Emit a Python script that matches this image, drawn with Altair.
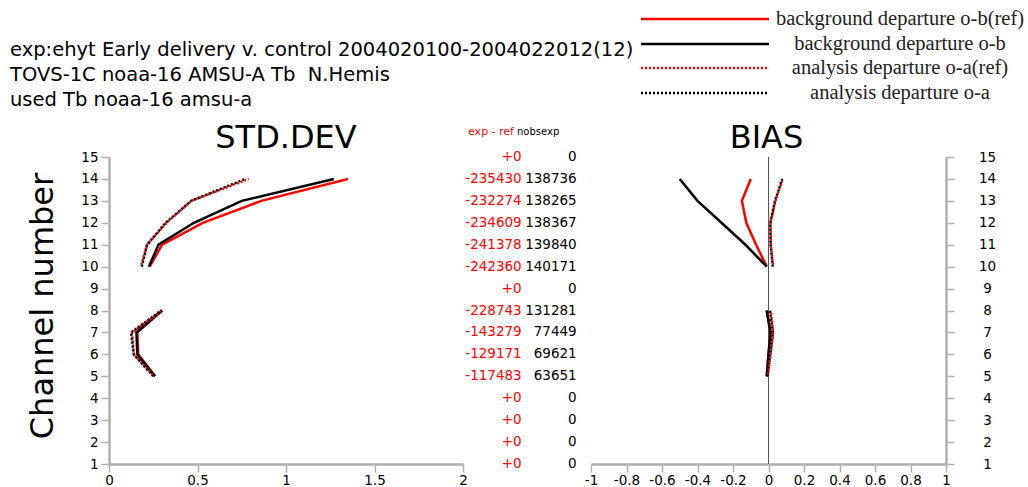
import altair as alt
import pandas as pd

# ---------------- data ----------------
prof_channels = [5, 6, 7, 8, 10, 11, 12, 13, 14]
prof_segment = ["low", "low", "low", "low", "high", "high", "high", "high", "high"]

std_ob_ref = [0.26, 0.165, 0.16, 0.30, 0.23, 0.30, 0.53, 0.86, 1.35]
std_ob = [0.26, 0.16, 0.155, 0.30, 0.225, 0.28, 0.48, 0.75, 1.27]
std_oa_ref = [0.255, 0.14, 0.13, 0.30, 0.18, 0.215, 0.325, 0.465, 0.79]
std_oa = [0.25, 0.14, 0.125, 0.295, 0.185, 0.215, 0.32, 0.465, 0.77]

bias_ob_ref = [-0.01, 0.0, 0.01, -0.01, -0.01, -0.07, -0.125, -0.15, -0.10]
bias_ob = [-0.01, 0.0, 0.012, -0.01, -0.01, -0.13, -0.265, -0.40, -0.50]
bias_oa_ref = [-0.005, 0.012, 0.027, 0.012, 0.026, 0.013, 0.011, 0.039, 0.08]
bias_oa = [-0.006, 0.01, 0.025, 0.008, 0.024, 0.012, 0.01, 0.037, 0.077]

table_channels = list(range(15, 0, -1))
exp_minus_ref = ["+0", "-235430", "-232274", "-234609", "-241378", "-242360", "+0",
                 "-228743", "-143279", "-129171", "-117483", "+0", "+0", "+0", "+0"]
nobs_exp = ["0", "138736", "138265", "138367", "139840", "140171", "0",
            "131281", "77449", "69621", "63651", "0", "0", "0", "0"]

channel_ticks = list(range(1, 16))
std_ticks = [0, 0.5, 1, 1.5, 2]
bias_ticks = [-1, -0.8, -0.6, -0.4, -0.2, 0, 0.2, 0.4, 0.6, 0.8, 1]

legend_labels = ["background departure o-b(ref)", "background departure o-b",
                 "analysis departure o-a(ref)", "analysis departure o-a"]
header_lines = ["exp:ehyt Early delivery v. control 2004020100-2004022012(12)",
                "TOVS-1C noaa-16 AMSU-A Tb \u00a0N.Hemis",
                "used Tb noaa-16 amsu-a"]

# ---------------- layout / style ----------------
W, H = 837, 307
FONT = "DejaVu Sans"
GRAY = "#b0b0b0"
RED = "#ff0000"
BLACK = "#000000"
styles = [(RED, None), (BLACK, None), (RED, [2, 2]), (BLACK, [2, 2])]
dash_offsets = [0, 0, 2, 0]

y_scale = alt.Scale(domain=[1, 15], nice=False, zero=False)
x_left = alt.Scale(domain=[0, 2], range=[0, 354], nice=False, zero=False)
x_right = alt.Scale(domain=[-1, 1], range=[482, 837], nice=False, zero=False)

common_axis = dict(grid=False, domainColor=GRAY, domainWidth=2.5, tickColor=GRAY,
                   tickWidth=1.5, tickSize=8, labelFont=FONT, labelFontSize=13.5,
                   labelColor="black", title=None, labelOverlap=False, labelFlush=False)

ax_x_left = alt.Axis(orient="bottom", values=std_ticks, labelExpr="'' + datum.value",
                     labelPadding=1, **common_axis)
ax_x_right = alt.Axis(orient="bottom", values=bias_ticks, labelExpr="'' + datum.value",
                      labelPadding=1, **common_axis)
ax_y_left = alt.Axis(orient="left", values=channel_ticks, labelPadding=3, **common_axis)
ax_y_right = alt.Axis(orient="right", values=channel_ticks, labelPadding=33,
                      labelAlign="center", **common_axis)


def profile_layer(values, style_idx, xscale, xaxis, yaxis):
    color, dash = styles[style_idx]
    df = pd.DataFrame({"channel": prof_channels, "value": values, "seg": prof_segment})
    mk = dict(color=color, strokeWidth=2.5)
    if dash:
        mk["strokeDash"] = dash
        mk["strokeDashOffset"] = dash_offsets[style_idx]
    return alt.Chart(df).mark_line(**mk).encode(
        x=alt.X("value:Q", scale=xscale, axis=xaxis),
        y=alt.Y("channel:Q", scale=y_scale, axis=yaxis),
        detail="seg:N",
        order="channel:Q",
    )


std_series = [std_ob_ref, std_ob, std_oa_ref, std_oa]
bias_series = [bias_ob_ref, bias_ob, bias_oa_ref, bias_oa]

left_layers = [profile_layer(v, i, x_left, ax_x_left, ax_y_left) for i, v in enumerate(std_series)]

table_df = pd.DataFrame({"channel": table_channels, "expref": exp_minus_ref, "nobs": nobs_exp})
table_red = alt.Chart(table_df).mark_text(
    font=FONT, fontSize=13.5, color=RED, align="right", baseline="middle"
).encode(x=alt.value(412.7), y=alt.Y("channel:Q", scale=y_scale, axis=ax_y_left), text="expref:N")
table_black = alt.Chart(table_df).mark_text(
    font=FONT, fontSize=13.5, color=BLACK, align="right", baseline="middle"
).encode(x=alt.value(467.7), y=alt.Y("channel:Q", scale=y_scale, axis=ax_y_left), text="nobs:N")

left = alt.layer(*left_layers, table_red, table_black)

zero_df = pd.DataFrame({"v": [0]})
zero_rule = alt.Chart(zero_df).mark_rule(color="#555555", strokeWidth=1).encode(
    x=alt.X("v:Q", scale=x_right, axis=ax_x_right), y=alt.value(0), y2=alt.value(H))
right_layers = [profile_layer(v, i, x_right, ax_x_right, ax_y_right) for i, v in enumerate(bias_series)]
right = alt.layer(zero_rule, *right_layers)


def label(text, x, y, **kw):
    return alt.Chart(pd.DataFrame({"t": [text]})).mark_text(**kw).encode(
        text="t:N", x=alt.value(x), y=alt.value(y))


annots = [
    label("\n".join(header_lines), -99, -101, font=FONT, fontSize=19.5, align="left",
          baseline="alphabetic", lineBreak="\n", lineHeight=25, color="black"),
    label("STD.DEV", 177, -9, font=FONT, fontSize=32, align="center", baseline="alphabetic", color="black"),
    label("BIAS", 657.5, -9, font=FONT, fontSize=32, align="center", baseline="alphabetic", color="black"),
    label("Channel number", -56, 149, font=FONT, fontSize=32, align="center",
          baseline="alphabetic", angle=270, color="black"),
    label("exp - ref", 405, -25, font=FONT, fontSize=11, align="right", baseline="middle", color=RED),
    label("nobsexp", 408, -25, font=FONT, fontSize=10, align="left", baseline="middle", color="black"),
]

legend_y = [-138, -113, -89, -64]
for i, (lab, ly) in enumerate(zip(legend_labels, legend_y)):
    color, dash = styles[i]
    mk = dict(color=color, strokeWidth=2.5)
    if dash:
        mk["strokeDash"] = dash
    annots.append(
        alt.Chart(pd.DataFrame({"t": [lab]})).mark_rule(**mk).encode(
            x=alt.value(532), x2=alt.value(660), y=alt.value(ly))
    )
    annots.append(label(lab, 791, ly, font="Liberation Serif", fontSize=20.5, align="center",
                        baseline="middle", color="#222222"))

chart = alt.layer(left, right, *annots).resolve_scale(
    x="independent", y="independent"
).properties(
    width=W, height=H,
    padding={"left": 109, "top": 157, "right": 82, "bottom": 23},
    autosize=alt.AutoSizeParams(type="none"),
).configure_view(stroke=None)

chart.save("out.html", embed_options={"renderer": "svg", "actions": False})
